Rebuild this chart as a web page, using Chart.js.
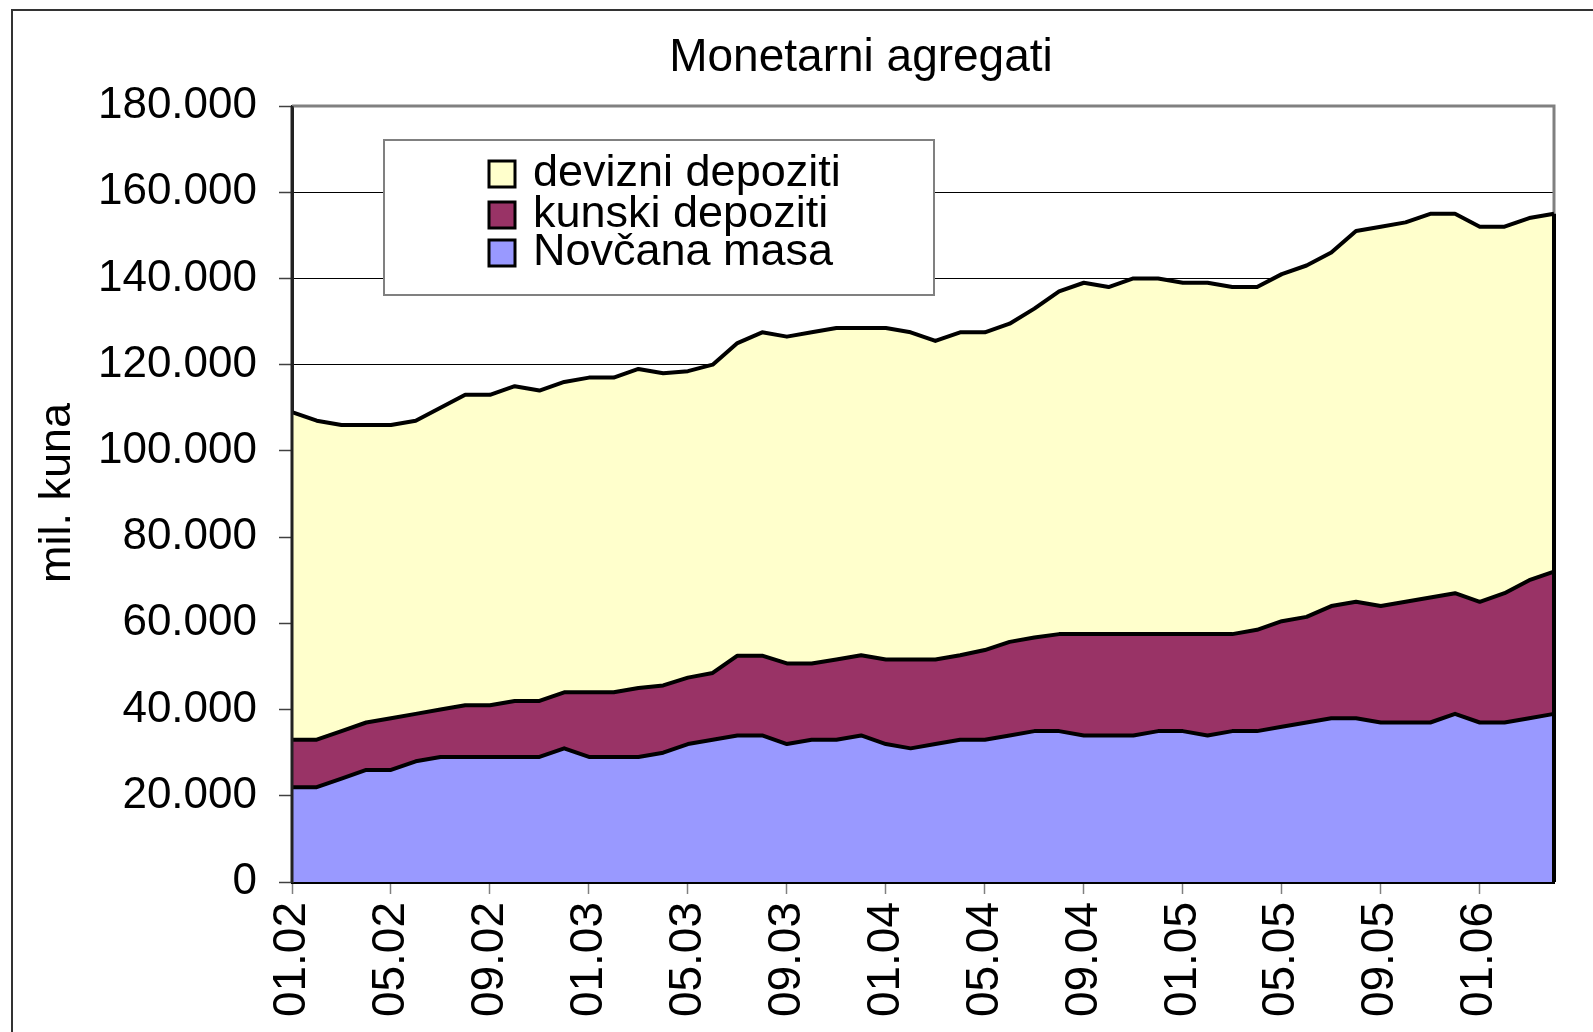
<!DOCTYPE html>
<html>
<head>
<meta charset="utf-8">
<script src="https://cdn.jsdelivr.net/npm/chart.js@4.4.1/dist/chart.umd.min.js"></script>
<style>
  html, body { margin: 0; padding: 0; background: #fff; }
  canvas { display: block; }
</style>
</head>
<body>
<canvas id="chart" width="1593" height="1032"></canvas>
<script>
// Monetarni agregati — stacked area, mil. kuna
const TITLE = "Monetarni agregati";
const Y_TITLE = "mil. kuna";

const months = [
  "01.02","02.02","03.02","04.02","05.02","06.02","07.02","08.02","09.02","10.02","11.02","12.02",
  "01.03","02.03","03.03","04.03","05.03","06.03","07.03","08.03","09.03","10.03","11.03","12.03",
  "01.04","02.04","03.04","04.04","05.04","06.04","07.04","08.04","09.04","10.04","11.04","12.04",
  "01.05","02.05","03.05","04.05","05.05","06.05","07.05","08.05","09.05","10.05","11.05","12.05",
  "01.06","02.06","03.06","04.06"
];

// bottom layer
const novcanaMasa = [
  22000,22000,24000,26000,26000,28000,29000,29000,29000,29000,
  29000,31000,29000,29000,29000,30000,32000,33000,34000,34000,
  32000,33000,33000,34000,32000,31000,32000,33000,33000,34000,
  35000,35000,34000,34000,34000,35000,35000,34000,35000,35000,
  36000,37000,38000,38000,37000,37000,37000,39000,37000,37000,
  38000,39000
];
// middle layer
const kunskiDepoziti = [
  11000,11000,11000,11000,12000,11000,11000,12000,12000,13000,
  13000,13000,15000,15000,16000,15600,15400,15500,18500,18500,
  18700,17700,18600,18600,19600,20600,19600,19600,20800,21700,
  21700,22500,23500,23500,23500,22500,22500,23500,22500,23500,
  24500,24500,26000,27000,27000,28000,29000,28000,28000,30000,
  32000,33000
];
// top layer
const devizniDepoziti = [
  76000,74000,71000,69000,68000,68000,70000,72000,72000,73000,
  72000,72000,73000,73000,74000,72400,71100,71500,72500,75000,
  75800,76800,76900,75900,76900,75900,73900,74900,73700,73800,
  76300,79500,81500,80500,82500,82500,81500,81500,80500,79500,
  80500,81500,82000,86000,88000,88000,89000,88000,87000,85000,
  84000,83000
];

const FONT = '"Liberation Sans", Arial, sans-serif';

function fmt(v) {
  return String(v).replace(/\B(?=(\d{3})+(?!\d))/g, ".");
}

const decor = {
  id: "decor",
  beforeDraw(chart) {
    const c = chart.ctx;
    c.save();
    c.fillStyle = "#fff";
    c.fillRect(0, 0, chart.width, chart.height);
    // outer frame (cut by the picture edge on the right and bottom)
    c.strokeStyle = "#333";
    c.lineWidth = 2;
    c.beginPath();
    c.moveTo(12, chart.height + 5);
    c.lineTo(12, 10);
    c.lineTo(chart.width + 5, 10);
    c.stroke();
    // title
    c.fillStyle = "#000";
    c.font = "46px " + FONT;
    c.textAlign = "center";
    c.textBaseline = "alphabetic";
    c.fillText(TITLE, 861, 71);
    // y axis title
    c.translate(70, 493);
    c.rotate(-Math.PI / 2);
    c.font = "45px " + FONT;
    c.fillText(Y_TITLE, 0, 0);
    c.restore();
  },
  beforeDatasetsDraw(chart) {
    const c = chart.ctx, a = chart.chartArea;
    c.save();
    c.strokeStyle = "#808080";
    c.lineWidth = 3;
    c.beginPath();
    c.moveTo(a.left, a.top);
    c.lineTo(a.right, a.top);
    c.lineTo(a.right, a.bottom);
    c.stroke();
    c.restore();
  },
  afterDatasetsDraw(chart) {
    const c = chart.ctx, a = chart.chartArea;
    const topMeta = chart.getDatasetMeta(2);
    const last = topMeta.data[topMeta.data.length - 1];
    c.save();
    c.strokeStyle = "#000";
    c.lineWidth = 4;
    c.beginPath();
    c.moveTo(last.x, last.y);
    c.lineTo(last.x, a.bottom);
    c.stroke();
    c.strokeStyle = "#222";
    c.lineWidth = 3;
    c.beginPath();
    c.moveTo(a.left, a.top);
    c.lineTo(a.left, a.bottom);
    c.stroke();
    c.restore();
  },
  afterDraw(chart) {
    const c = chart.ctx;
    c.save();
    c.fillStyle = "#fff";
    c.fillRect(384, 140, 550, 155);
    c.strokeStyle = "#808080";
    c.lineWidth = 2;
    c.strokeRect(384, 140, 550, 155);
    const items = chart.data.datasets.slice().reverse();
    const base = [186, 227, 265];
    c.font = "45px " + FONT;
    c.textAlign = "left";
    c.textBaseline = "alphabetic";
    items.forEach((ds, i) => {
      c.fillStyle = ds.backgroundColor;
      c.fillRect(489, base[i] - 25, 26, 26);
      c.strokeStyle = "#000";
      c.lineWidth = 3;
      c.strokeRect(489, base[i] - 25, 26, 26);
      c.fillStyle = "#000";
      c.fillText(ds.label, 533, base[i]);
    });
    c.restore();
  }
};

const ctx = document.getElementById("chart").getContext("2d");
new Chart(ctx, {
  type: "line",
  data: {
    labels: months,
    datasets: [
      {label: "Novčana masa", data: novcanaMasa, backgroundColor: "#9999FF", fill: "origin"},
      {label: "kunski depoziti", data: kunskiDepoziti, backgroundColor: "#993366", fill: "-1"},
      {label: "devizni depoziti", data: devizniDepoziti, backgroundColor: "#FFFFCC", fill: "-1"}
    ]
  },
  options: {
    responsive: false,
    animation: false,
    layout: { padding: { left: 0, right: 39, top: 106, bottom: 0 } },
    elements: {
      point: { radius: 0, hoverRadius: 0 },
      line: { tension: 0, borderWidth: 4, borderColor: "#000", borderJoinStyle: "round" }
    },
    plugins: {
      legend: { display: false },
      title: { display: false },
      tooltip: { enabled: false }
    },
    scales: {
      x: {
        type: "category",
        offset: false,
        z: 1,
        grid: {
          offset: false,
          drawOnChartArea: false,
          tickLength: 12,
          tickWidth: 1.5,
          tickColor: c => (c.index % 4 === 0 ? "#808080" : "rgba(0,0,0,0)")
        },
        border: { display: true, color: "#000", width: 3 },
        ticks: {
          autoSkip: false,
          minRotation: 90,
          maxRotation: 90,
          padding: 8,
          color: "#000",
          font: { family: FONT, size: 46 },
          callback(v, i) { return i % 4 === 0 ? this.getLabelForValue(v) : ""; }
        },
        afterFit(s) {
          s.height = 150;
          s.paddingLeft = 0;
          s.paddingRight = 0;
        }
      },
      y: {
        stacked: true,
        min: 0,
        max: 180000,
        grid: { color: "#000", lineWidth: 1, tickLength: 13, tickColor: "#404040", tickWidth: 1.5 },
        border: { display: true, color: "#222", width: 3 },
        ticks: {
          stepSize: 20000,
          padding: 22,
          color: "#000",
          font: { family: FONT, size: 44 },
          callback: v => fmt(v)
        },
        afterFit(s) { s.width = 292; }
      }
    }
  },
  plugins: [decor]
});
</script>
</body>
</html>
